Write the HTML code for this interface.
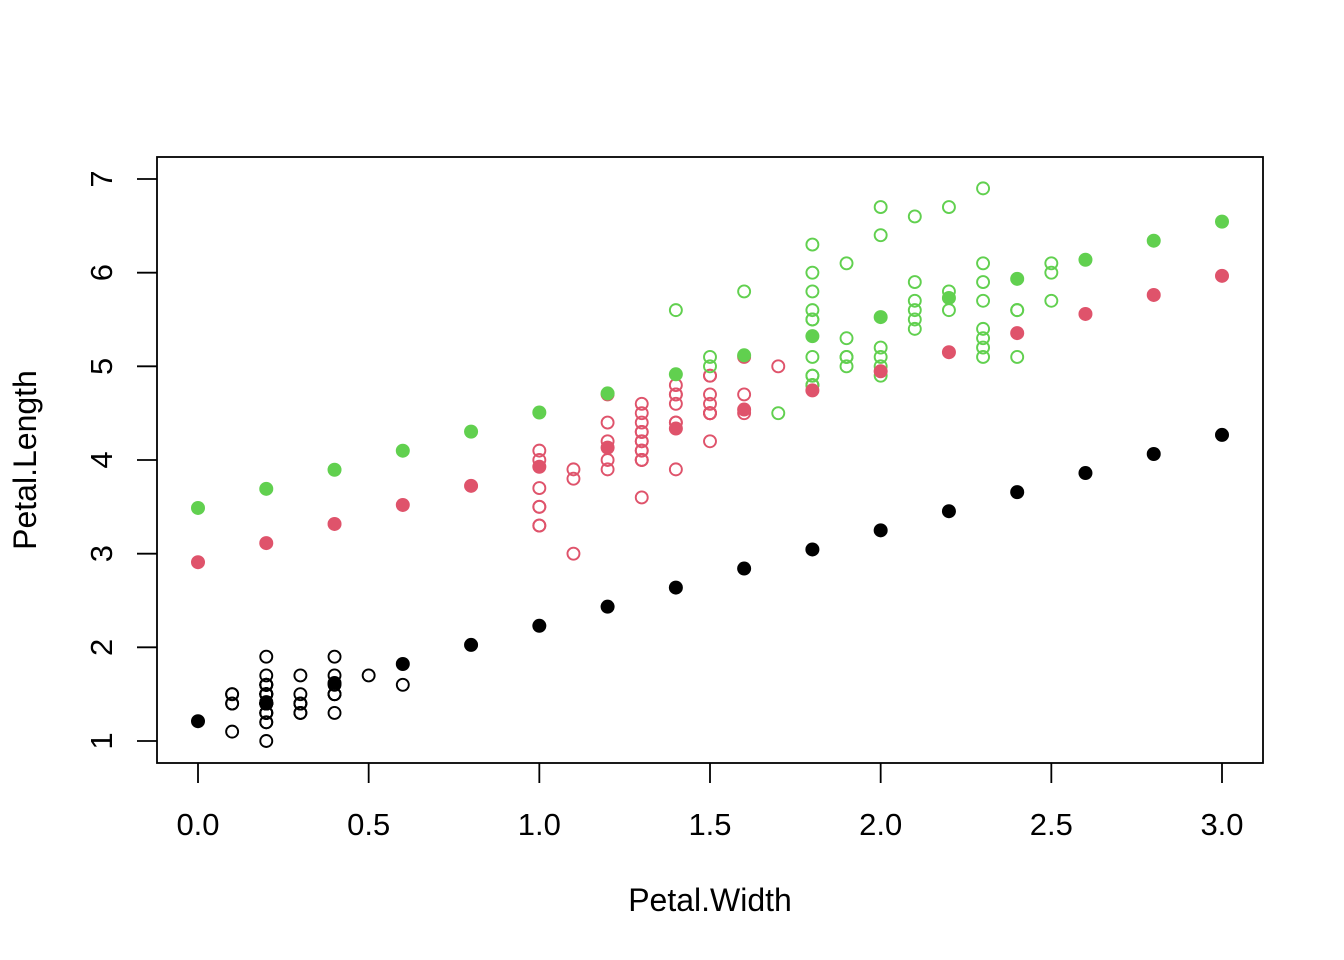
<!DOCTYPE html>
<html><head><meta charset="utf-8"><style>
html,body{margin:0;padding:0;background:#fff;}
svg{display:block;font-family:"Liberation Sans",Arial,sans-serif;}
</style></head><body>
<svg id="chart" width="1344" height="960" viewBox="0 0 1344 960">
<rect x="0" y="0" width="1344" height="960" fill="#fff"/>
<g id="marks"></g>
<rect x="157" y="157" width="1106" height="606" fill="none" stroke="#000" stroke-width="1.8"/>
<g id="axes"></g>
<text x="710" y="911" font-size="32" text-anchor="middle">Petal.Width</text>
<text transform="translate(36,460) rotate(-90)" font-size="32" text-anchor="middle">Petal.Length</text>
</svg>
<script>
const xTicks=[0,0.5,1,1.5,2,2.5,3];
const xTickLabels=["0.0","0.5","1.0","1.5","2.0","2.5","3.0"];
const yTicks=[1,2,3,4,5,6,7];
const yTickLabels=["1","2","3","4","5","6","7"];
const speciesNames=["setosa","versicolor","virginica"];
const speciesColors=["#000000","#DF536B","#61D04F"];
const setosaW=[.2,.2,.2,.2,.2,.4,.3,.2,.2,.1,.2,.2,.1,.1,.2,.4,.4,.3,.3,.3,.2,.4,.2,.5,.2,.2,.4,.2,.2,.2,.2,.4,.1,.2,.2,.2,.2,.1,.2,.2,.3,.3,.2,.6,.4,.3,.2,.2,.2,.2];
const setosaL=[1.4,1.4,1.3,1.5,1.4,1.7,1.4,1.5,1.4,1.5,1.5,1.6,1.4,1.1,1.2,1.5,1.3,1.4,1.7,1.5,1.7,1.5,1.0,1.7,1.9,1.6,1.6,1.5,1.4,1.6,1.6,1.5,1.5,1.4,1.5,1.2,1.3,1.4,1.3,1.5,1.3,1.3,1.3,1.6,1.9,1.4,1.6,1.4,1.5,1.4];
const versicolorW=[1.4,1.5,1.5,1.3,1.5,1.3,1.6,1.0,1.3,1.4,1.0,1.5,1.0,1.4,1.3,1.4,1.5,1.0,1.5,1.1,1.8,1.3,1.5,1.2,1.3,1.4,1.4,1.7,1.5,1.0,1.1,1.0,1.2,1.6,1.5,1.6,1.5,1.3,1.3,1.3,1.2,1.4,1.2,1.0,1.3,1.2,1.3,1.3,1.1,1.3];
const versicolorL=[4.7,4.5,4.9,4.0,4.6,4.5,4.7,3.3,4.6,3.9,3.5,4.2,4.0,4.7,3.6,4.4,4.5,4.1,4.5,3.9,4.8,4.0,4.9,4.7,4.3,4.4,4.8,5.0,4.5,3.5,3.8,3.7,3.9,5.1,4.5,4.5,4.7,4.4,4.1,4.0,4.4,4.6,4.0,3.3,4.2,4.2,4.2,4.3,3.0,4.1];
const virginicaW=[2.5,1.9,2.1,1.8,2.2,2.1,1.7,1.8,1.8,2.5,2.0,1.9,2.1,2.0,2.4,2.3,1.8,2.2,2.3,1.5,2.3,2.0,2.0,1.8,2.1,1.8,1.8,1.8,2.1,1.6,1.9,2.0,2.2,1.5,1.4,2.3,2.4,1.8,1.8,2.1,2.4,2.3,1.9,2.3,2.5,2.3,1.9,2.0,2.3,1.8];
const virginicaL=[6.0,5.1,5.9,5.6,5.8,6.6,4.5,6.3,5.8,6.1,5.1,5.3,5.5,5.0,5.1,5.3,5.5,6.7,6.9,5.0,5.7,4.9,6.7,4.9,5.7,6.0,4.8,4.9,5.6,5.8,6.1,6.4,5.6,5.1,5.6,6.1,5.6,5.5,4.8,5.4,5.6,5.1,5.1,5.9,5.7,5.2,5.0,5.2,5.4,5.1];
const predW=[0,0.2,0.4,0.6,0.8,1.0,1.2,1.4,1.6,1.8,2.0,2.2,2.4,2.6,2.8,3.0];
const predSetosa=[1.211,1.415,1.619,1.822,2.026,2.230,2.434,2.638,2.841,3.045,3.249,3.453,3.657,3.861,4.064,4.268];
const predVersicolor=[2.909,3.113,3.317,3.520,3.724,3.928,4.132,4.336,4.539,4.743,4.947,5.151,5.355,5.559,5.762,5.966];
const predVirginica=[3.488,3.692,3.896,4.099,4.303,4.507,4.711,4.915,5.118,5.322,5.526,5.730,5.934,6.138,6.341,6.545];

const NS="http://www.w3.org/2000/svg";
function sx(v){return 198+(v-0)*(1222-198)/3;}
function sy(v){return 741-(v-1)*(741-179)/6;}
const marks=document.getElementById('marks');
const axes=document.getElementById('axes');
function mk(tag,attrs,parent){const e=document.createElementNS(NS,tag);for(const k in attrs)e.setAttribute(k,attrs[k]);parent.appendChild(e);return e;}

const obs=[[setosaW,setosaL],[versicolorW,versicolorL],[virginicaW,virginicaL]];
obs.forEach((s,si)=>{
  s[0].forEach((w,i)=>{
    const c=mk('circle',{cx:sx(w),cy:sy(s[1][i]),r:6,fill:'none',stroke:speciesColors[si],'stroke-width':1.9},marks);
    
    
  });
});
const preds=[predSetosa,predVersicolor,predVirginica];
preds.forEach((p,si)=>{
  predW.forEach((w,i)=>{
    const c=mk('circle',{cx:sx(w),cy:sy(p[i]),r:7,fill:speciesColors[si]},marks);
    
    
  });
});
xTicks.forEach((t,i)=>{
  const l=mk('line',{x1:sx(t),x2:sx(t),y1:763,y2:783,stroke:'#000','stroke-width':1.8},axes);
  
  
  const tx=mk('text',{x:sx(t),y:835,'font-size':31,'text-anchor':'middle'},axes);
  tx.textContent=xTickLabels[i];
  
  
});
yTicks.forEach((t,i)=>{
  const l=mk('line',{x1:137,x2:157,y1:sy(t),y2:sy(t),stroke:'#000','stroke-width':1.8},axes);
  
  
  const tx=mk('text',{transform:'translate(112,'+sy(t)+') rotate(-90)','font-size':31,'text-anchor':'middle'},axes);
  tx.textContent=yTickLabels[i];
  
  
});
</script>
</body></html>
